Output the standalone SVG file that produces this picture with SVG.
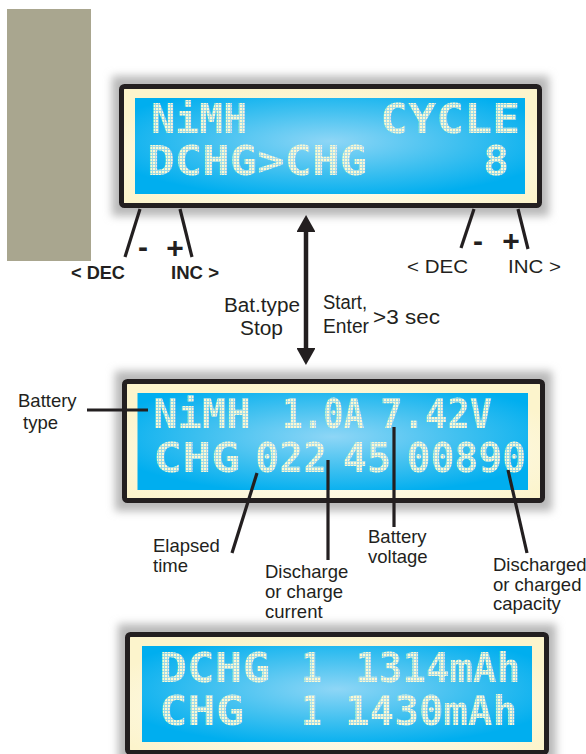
<svg xmlns="http://www.w3.org/2000/svg" width="586" height="754" viewBox="0 0 586 754">
<style>
.lbl{font-family:"Liberation Sans",Arial,sans-serif;font-size:18.5px;fill:#231f20}
.big{font-family:"Liberation Sans",Arial,sans-serif;font-size:20px;fill:#231f20}
.bold{font-family:"Liberation Sans",Arial,sans-serif;font-size:18px;font-weight:bold;fill:#231f20}
.sym{font-family:"Liberation Sans",Arial,sans-serif;font-size:30px;font-weight:bold;fill:#231f20;text-anchor:middle}
.lcd{font-family:"DejaVu Sans Mono","Liberation Mono",monospace;font-size:40px;font-weight:bold;fill:url(#dots)}
.frame{fill:url(#cream);stroke:#231f20;stroke-width:5}
.screen{fill:url(#blue)}
.shadow{fill:#b8b8b8;filter:url(#blur)}
.ln{stroke:#231f20;stroke-width:3.2;fill:none;stroke-linecap:butt}
</style>
<defs>
<pattern id="dots" patternUnits="userSpaceOnUse" width="3" height="3">
<rect x="0" y="0" width="2.4" height="2.4" fill="#fdf8d0"/>
<rect x="2.4" y="0" width="0.6" height="3" fill="#bfe3ea"/>
<rect x="0" y="2.4" width="2.4" height="0.6" fill="#bfe3ea"/>
</pattern>
<radialGradient id="blue" cx="0.5" cy="0.45" r="0.6">
<stop offset="0" stop-color="#8ed6f6"/>
<stop offset="0.55" stop-color="#3fc0f0"/>
<stop offset="1" stop-color="#00aeef"/>
</radialGradient>
<radialGradient id="cream" cx="0.5" cy="0.6" r="0.6">
<stop offset="0" stop-color="#ffffff"/>
<stop offset="1" stop-color="#fcf4cc"/>
</radialGradient>
<filter id="blur" x="-0.1" y="-0.2" width="1.2" height="1.4">
<feGaussianBlur stdDeviation="4"/>
</filter>
<marker id="ah" markerUnits="userSpaceOnUse" markerWidth="24" markerHeight="18" refX="0" refY="9" orient="auto-start-reverse" viewBox="0 0 24 18">
<path d="M0,0 L17,9 L0,18 Z" fill="#231f20" transform="translate(0,-0.5) scale(1,1.06)"/>
</marker>
</defs>
<rect id="grey-block" x="7" y="9" width="84" height="252" fill="#a9a68f"/>

<g id="panel-cycle">
<rect class="shadow" x="112" y="76" width="437" height="140"/>
<rect class="frame" x="121.5" y="86.5" width="418" height="119" rx="3"/>
<rect class="screen" x="135" y="98" width="390" height="96"/>
<text class="lcd" x="151" y="133" textLength="96" lengthAdjust="spacingAndGlyphs">NiMH</text>
<text class="lcd" x="380" y="133" textLength="140" lengthAdjust="spacingAndGlyphs">CYCLE</text>
<text class="lcd" x="147" y="175" textLength="220" lengthAdjust="spacingAndGlyphs">DCHG&gt;CHG</text>
<text class="lcd" x="483" y="175" textLength="26" lengthAdjust="spacingAndGlyphs">8</text>
</g>

<g id="panel-status">
<rect class="shadow" x="115" y="371" width="437" height="140"/>
<rect class="frame" x="124.5" y="381.5" width="418" height="119" rx="3"/>
<rect class="screen" x="137.5" y="393" width="390.5" height="97"/>
<text class="lcd" x="153" y="428" textLength="97.5" lengthAdjust="spacingAndGlyphs">NiMH</text>
<text class="lcd" x="282" y="428" textLength="82" lengthAdjust="spacingAndGlyphs">1.0A</text>
<text class="lcd" x="380" y="428" textLength="112" lengthAdjust="spacingAndGlyphs">7.42V</text>
<text class="lcd" x="153" y="472" textLength="87" lengthAdjust="spacingAndGlyphs">CHG</text>
<text class="lcd" x="255" y="472" textLength="72" lengthAdjust="spacingAndGlyphs">022</text>
<text class="lcd" x="342.5" y="472" textLength="48.5" lengthAdjust="spacingAndGlyphs">45</text>
<text class="lcd" x="406.5" y="472" textLength="119.5" lengthAdjust="spacingAndGlyphs">00890</text>
</g>

<g id="panel-result">
<rect class="shadow" x="118" y="624" width="438" height="140"/>
<rect class="frame" x="127.5" y="634.5" width="419" height="118" rx="3"/>
<rect class="screen" x="142" y="646" width="390" height="96"/>
<text class="lcd" x="159" y="682" textLength="111" lengthAdjust="spacingAndGlyphs">DCHG</text>
<text class="lcd" x="301" y="682" textLength="21" lengthAdjust="spacingAndGlyphs">1</text>
<text class="lcd" x="355" y="682" textLength="165" lengthAdjust="spacingAndGlyphs">1314mAh</text>
<text class="lcd" x="159" y="725" textLength="85" lengthAdjust="spacingAndGlyphs">CHG</text>
<text class="lcd" x="301" y="725" textLength="21" lengthAdjust="spacingAndGlyphs">1</text>
<text class="lcd" x="345" y="725" textLength="172" lengthAdjust="spacingAndGlyphs">1430mAh</text>
</g>

<g id="connectors">
<line class="ln" x1="140" y1="209" x2="125" y2="257"/>
<line class="ln" x1="180" y1="209" x2="192" y2="257"/>
<line class="ln" x1="474" y1="209" x2="461" y2="248"/>
<line class="ln" x1="518" y1="209" x2="528" y2="249"/>
<line class="ln" x1="87" y1="410" x2="148" y2="410"/>
<line class="ln" x1="257" y1="473" x2="232" y2="553"/>
<line class="ln" x1="328" y1="460" x2="328" y2="560"/>
<line class="ln" x1="394" y1="427" x2="394" y2="527"/>
<line class="ln" x1="508" y1="470" x2="527" y2="553"/>
<line x1="306" y1="232" x2="306" y2="348" stroke="#231f20" stroke-width="4.5" marker-start="url(#ah)" marker-end="url(#ah)"/>
</g>

<g id="labels-top">
<text class="sym" x="143" y="257">-</text>
<text class="sym" x="175" y="258">+</text>
<text class="bold" x="71" y="279" textLength="54" lengthAdjust="spacingAndGlyphs">&lt; DEC</text>
<text class="bold" x="171" y="279" textLength="48" lengthAdjust="spacingAndGlyphs">INC &gt;</text>
<text class="sym" x="478" y="251">-</text>
<text class="sym" x="511" y="251">+</text>
<text class="lbl" x="407" y="273" font-size="19" textLength="61" lengthAdjust="spacingAndGlyphs">&lt; DEC</text>
<text class="lbl" x="508" y="273" font-size="19" textLength="53" lengthAdjust="spacingAndGlyphs">INC &gt;</text>
</g>

<g id="labels-arrow">
<text class="big" x="224" y="312" textLength="76" lengthAdjust="spacingAndGlyphs">Bat.type</text>
<text class="big" x="240" y="335" textLength="43" lengthAdjust="spacingAndGlyphs">Stop</text>
<text class="big" x="323" y="309" textLength="44" lengthAdjust="spacingAndGlyphs">Start,</text>
<text class="big" x="323" y="333" textLength="46" lengthAdjust="spacingAndGlyphs">Enter</text>
<text class="big" x="373" y="324" textLength="67" lengthAdjust="spacingAndGlyphs">&gt;3 sec</text>
</g>

<g id="labels-fields">
<text class="lbl" x="18" y="407">Battery</text>
<text class="lbl" x="23" y="429">type</text>
<text class="lbl" x="153" y="552">Elapsed</text>
<text class="lbl" x="153" y="572">time</text>
<text class="lbl" x="265" y="578">Discharge</text>
<text class="lbl" x="265" y="598">or charge</text>
<text class="lbl" x="265" y="618">current</text>
<text class="lbl" x="368" y="543">Battery</text>
<text class="lbl" x="368" y="563">voltage</text>
<text class="lbl" x="493" y="571">Discharged</text>
<text class="lbl" x="493" y="591">or charged</text>
<text class="lbl" x="493" y="610">capacity</text>
</g>
</svg>
